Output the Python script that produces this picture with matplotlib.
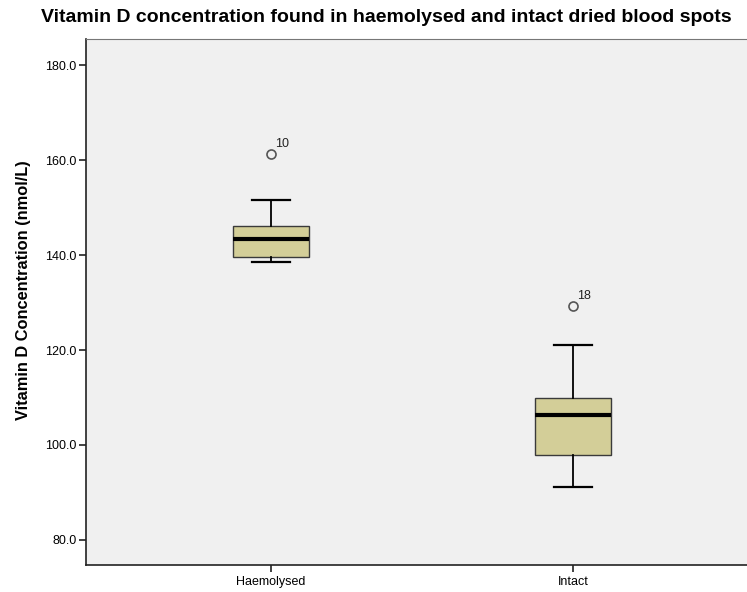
import matplotlib
matplotlib.use('Agg')
import matplotlib.pyplot as plt

plt.rcParams['font.family'] = ['Liberation Sans', 'DejaVu Sans']

# summary statistics per group (nmol/L)
groups = ['Haemolysed', 'Intact']
whisker_low = [138.6, 91.2]
q1 = [139.6, 97.9]
median = [143.3, 106.3]
q3 = [146.1, 109.8]
whisker_high = [151.7, 121.0]
outliers = [[161.4], [129.2]]
outlier_ids = [['10'], ['18']]

stats = []
for i in range(len(groups)):
    stats.append({'whislo': whisker_low[i], 'q1': q1[i], 'med': median[i],
                  'q3': q3[i], 'whishi': whisker_high[i], 'fliers': outliers[i]})

fig = plt.figure(figsize=(7.47, 5.92), dpi=100)
ax = fig.add_axes([86/747, 27/592, 661/747, 526/592])
ax.set_facecolor('#f0f0f0')

pos = [1, 2]
ax.bxp(stats, positions=pos, widths=0.25, patch_artist=True, showfliers=True,
       boxprops=dict(facecolor='#d3ce98', edgecolor='#3a3a3a', linewidth=1.0),
       medianprops=dict(color='black', linewidth=3.0),
       whiskerprops=dict(color='black', linewidth=1.3),
       capprops=dict(color='black', linewidth=1.6),
       capwidths=0.125,
       flierprops=dict(marker='o', markersize=6.5, markerfacecolor='none',
                       markeredgecolor='#555555', markeredgewidth=1.2))

for p, vals, ids in zip(pos, outliers, outlier_ids):
    for v, s in zip(vals, ids):
        ax.annotate(s, (p, v), xytext=(3, 5), textcoords='offset points',
                    fontsize=9, color='#222222')

ax.set_xlim(0.387, 2.576)
ax.set_ylim(74.7, 185.55)
ax.set_yticks([80, 100, 120, 140, 160, 180])
ax.set_yticklabels(['%.1f' % v for v in [80, 100, 120, 140, 160, 180]])
ax.set_xticks(pos)
ax.set_xticklabels(groups)
ax.tick_params(axis='both', labelsize=9, color='#222222', length=5, width=1.2)
ax.tick_params(axis='y', pad=2)
ax.tick_params(axis='x', pad=3)

ax.spines['left'].set_color('#222222')
ax.spines['bottom'].set_color('#222222')
ax.spines['left'].set_linewidth(1.2)
ax.spines['bottom'].set_linewidth(1.2)
ax.spines['top'].set_color('#777777')
ax.spines['right'].set_visible(False)

ax.set_ylabel('Vitamin D Concentration (nmol/L)', fontsize=11.8, fontweight='bold')
ax.yaxis.set_label_coords(-0.083, 0.523)
fig.text(386.5/747, 1 - 18/592, 'Vitamin D concentration found in haemolysed and intact dried blood spots',
         ha='center', va='center', fontsize=14, fontweight='bold')

fig.savefig('out.png', dpi=100, facecolor='white')
